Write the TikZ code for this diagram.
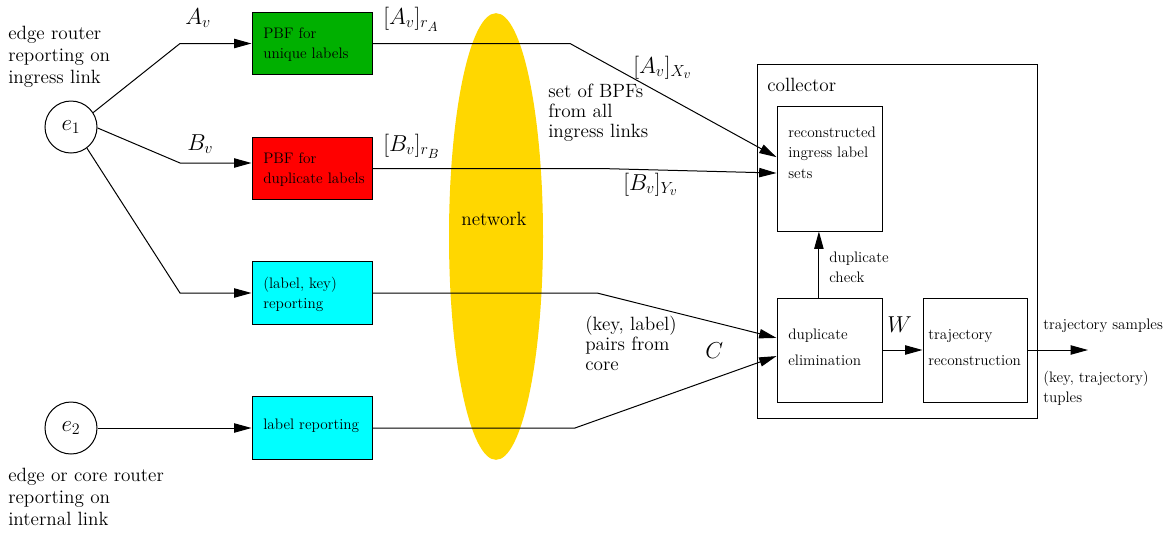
\documentclass[tikz,border=0pt]{standalone}
\usepackage{fontspec}
\usetikzlibrary{arrows.meta,calc,shapes.geometric}
\definecolor{fgreen}{RGB}{0,176,0}
\definecolor{fred}{RGB}{255,0,0}
\definecolor{fcyan}{RGB}{0,255,255}
\definecolor{fgold}{RGB}{255,215,0}
\begin{document}
\begin{tikzpicture}[x=0.75pt,y=-0.75pt,
  arr/.style={-{Triangle[length=13pt,width=7pt]}, line width=0.75pt},
  box/.style={draw, line width=0.75pt, rectangle, inner sep=0pt},
  fbox/.style={box, minimum width=90pt, minimum height=47pt},
  router/.style={draw, circle, line width=0.75pt, minimum size=39pt, inner sep=0pt, font=\fontsize{17.28}{18}\selectfont},
  bigtxt/.style={anchor=base west, inner sep=0pt, font=\fontsize{14.4}{16.5}\selectfont},
  midtxt/.style={anchor=base west, inner sep=0pt, font=\fontsize{14.4}{15.2}\selectfont},
  smtxt/.style={anchor=base west, inner sep=0pt, font=\fontsize{11.4}{15.5}\selectfont},
  widetxt/.style={anchor=base west, inner sep=0pt, font=\fontsize{11.4}{19.5}\selectfont},
  mth/.style={anchor=base west, inner sep=0pt, font=\fontsize{17.28}{18}\selectfont},
]
\useasboundingbox (0,0) rectangle (1172,533);
% network cloud
\node[ellipse, fill=fgold, minimum width=70.5pt, minimum height=335pt, inner sep=0pt] (net) at (496,236.5) {};
\node[anchor=base, inner sep=0pt, font=\fontsize{14.4}{16.5}\selectfont] (nettxt) at (494,225) {network};

% routers
\node[router] (e1) at (71,127) {$e_1$};
\node[router] (e2) at (71,428) {$e_2$};

% boxes
\node[fbox, fill=fgreen] (gbox) at (312,43.5) {};
\node[fbox, fill=fred] (rbox) at (312,168.5) {};
\node[fbox, fill=fcyan] (c1box) at (312,293) {};
\node[fbox, fill=fcyan] (c2box) at (312,428) {};
\node[box, minimum width=210pt, minimum height=265.5pt] (coll) at (897,241) {};
\node[box, minimum width=78.75pt, minimum height=93.75pt] (recon) at (829.5,168.5) {};
\node[box, minimum width=78.75pt, minimum height=78pt] (dup) at (829.5,350) {};
\node[box, minimum width=78pt, minimum height=78pt] (traj) at (975,350) {};

% connectors
\coordinate (a1) at (180,43.5);
\draw[arr] (e1.33) -- (a1) -- (gbox.west);
\coordinate (b1) at (180,163);
\draw[arr] (e1.-2) -- (b1) -- (b1 -| rbox.west);
\coordinate (c1) at (180,293);
\draw[arr] (e1.-53) -- (c1) -- (c1box.west);
\draw[arr] (e2) -- (c2box);

\coordinate (g1) at (570,43.5);
\draw[arr] (gbox.east) -- (g1) -- ($(recon.north west)!0.41!(recon.south west)$);
\coordinate (r1) at (600,168.5);
\draw[arr] (rbox.east) -- (r1) -- ($(recon.north west)!0.536!(recon.south west)$);
\coordinate (k1) at (597,293);
\draw[arr] (c1box.east) -- (k1) -- ($(dup.north west)!0.385!(dup.south west)$);
\coordinate (l1) at (575,428);
\draw[arr] (c2box.east) -- (l1) -- ($(dup.north west)!0.558!(dup.south west)$);
\draw[arr] (dup) -- (traj);
\coordinate (dc) at ($(dup.north west)!0.4!(dup.north east)$);
\draw[arr] (dc) -- (dc |- recon.south);
\coordinate (out) at (1088,350);
\draw[arr] (traj.east) -- (out);

% texts
\node[bigtxt] (t1) at (8,39) {\begin{tabular}[t]{@{}l@{}}edge router\\reporting on\\ingress link\end{tabular}};
\node[bigtxt] (t2) at (8,481) {\begin{tabular}[t]{@{}l@{}}edge or core router\\reporting on\\internal link\end{tabular}};
\node[midtxt] (t3) at (548,97) {\begin{tabular}[t]{@{}l@{}}set of BPFs\\from all\\ingress links\end{tabular}};
\node[midtxt] (t4) at (585,330) {\begin{tabular}[t]{@{}l@{}}(key, label)\\pairs from\\core\end{tabular}};
\node[bigtxt] (t5) at (767,91) {collector};

\node[smtxt] (tg) at (263,38) {\begin{tabular}[t]{@{}l@{}}PBF for\\unique labels\end{tabular}};
\node[smtxt] (tr) at (263,163) {\begin{tabular}[t]{@{}l@{}}PBF for\\duplicate labels\end{tabular}};
\node[smtxt] (tc1) at (263,288) {\begin{tabular}[t]{@{}l@{}}(label, key)\\reporting\end{tabular}};
\node[smtxt] (tc2) at (263,429) {label reporting};
\node[smtxt] (trec) at (788,137) {\begin{tabular}[t]{@{}l@{}}reconstructed\\ingress label\\sets\end{tabular}};
\node[smtxt] (tchk) at (829,262) {\begin{tabular}[t]{@{}l@{}}duplicate\\check\end{tabular}};
\node[widetxt] (tdup) at (788,339) {\begin{tabular}[t]{@{}l@{}}duplicate\\elimination\end{tabular}};
\node[widetxt] (ttraj) at (928,339) {\begin{tabular}[t]{@{}l@{}}trajectory\\reconstruction\end{tabular}};
\node[smtxt] (tsam) at (1043,329) {trajectory samples};
\node[smtxt] (ttup) at (1043,382) {\begin{tabular}[t]{@{}l@{}}(key, trajectory)\\tuples\end{tabular}};

% math labels
\node[mth] (mA) at (185,24) {$A_v$};
\node[mth] (mB) at (187,150) {$B_v$};
\node[mth] (mAr) at (383,24) {$[A_v]_{r_A}$};
\node[mth] (mBr) at (383,151) {$[B_v]_{r_B}$};
\node[mth] (mAX) at (633,73) {$[A_v]_{X_v}$};
\node[mth] (mBY) at (623,190) {$[B_v]_{Y_v}$};
\node[mth] (mC) at (705,358) {$C$};
\node[mth] (mW) at (887,332) {$W$};
\end{tikzpicture}
\end{document}
